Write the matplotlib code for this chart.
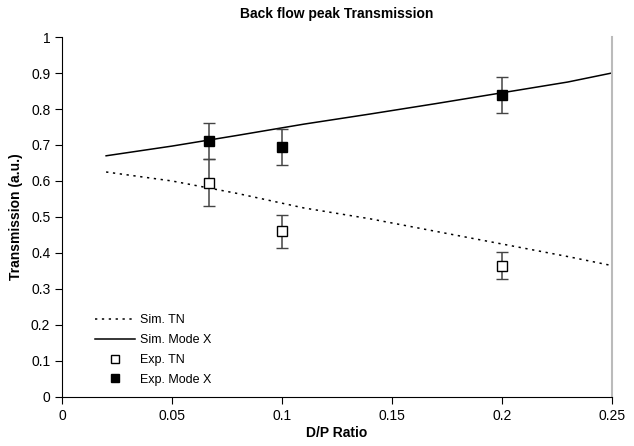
import numpy as np
import matplotlib
matplotlib.use('Agg')
import matplotlib.pyplot as plt

plt.rcParams['font.family'] = ['Liberation Sans', 'DejaVu Sans']

# simulated curves
sim_x = [0.02, 0.05, 0.08, 0.11, 0.14, 0.17, 0.20, 0.23, 0.25]
sim_tn = [0.625, 0.600, 0.565, 0.525, 0.495, 0.460, 0.425, 0.390, 0.365]
sim_modex = [0.670, 0.697, 0.727, 0.758, 0.786, 0.815, 0.845, 0.875, 0.900]

# experimental points
exp_x = [0.067, 0.1, 0.2]
exp_tn = [0.595, 0.460, 0.365]
exp_tn_err = [0.065, 0.045, 0.038]
exp_modex = [0.710, 0.695, 0.840]
exp_modex_err = [0.050, 0.050, 0.050]

fig = plt.figure(figsize=(6.34, 4.46), dpi=100)
ax = fig.add_axes([0.098, 0.110, 0.867, 0.807])

ax.plot(sim_x, sim_tn, ls=(0, (1.5, 3)), color='black', lw=1.1, label='Sim. TN')
ax.plot(sim_x, sim_modex, ls='-', color='black', lw=1.1, label='Sim. Mode X')
ax.errorbar(exp_x, exp_tn, yerr=exp_tn_err, fmt='s', mfc='white', mec='black',
            ms=7, mew=1, ecolor='#444444', elinewidth=1.1, capsize=4,
            label='Exp. TN', zorder=3)
ax.errorbar(exp_x, exp_modex, yerr=exp_modex_err, fmt='s', mfc='black', mec='black',
            ms=7, ecolor='#444444', elinewidth=1.1, capsize=4,
            label='Exp. Mode X', zorder=3)

ax.set_xlim(0, 0.25)
ax.set_ylim(0, 1)
ax.set_xticks([0, 0.05, 0.1, 0.15, 0.2, 0.25])
ax.set_xticklabels(['0', '0.05', '0.1', '0.15', '0.2', '0.25'])
ax.set_yticks(np.arange(0, 1.01, 0.1))
ax.set_yticklabels(['0', '0.1', '0.2', '0.3', '0.4', '0.5', '0.6', '0.7', '0.8', '0.9', '1'])
ax.tick_params(direction='out', length=5, labelsize=10, color='black')
ax.spines['top'].set_visible(False)
ax.spines['right'].set_color('#bbbbbb')
ax.spines['right'].set_linewidth(1.5)

ax.set_xlabel('D/P Ratio', fontsize=10, fontweight='bold', labelpad=2)
ax.set_ylabel('Transmission (a.u.)', fontsize=10, fontweight='bold', labelpad=6)
ax.set_title('Back flow peak Transmission', fontsize=10, fontweight='bold', pad=14)

handles, labels = ax.get_legend_handles_labels()
handles = [handles[0], handles[1], handles[2][0], handles[3][0]]
leg = ax.legend(handles, labels, loc='lower left', bbox_to_anchor=(0.04, 0.0),
                frameon=False, fontsize=9, handlelength=3.2, handletextpad=0.4,
                labelspacing=0.62, markerscale=0.8)

fig.savefig('out.png', dpi=100)
